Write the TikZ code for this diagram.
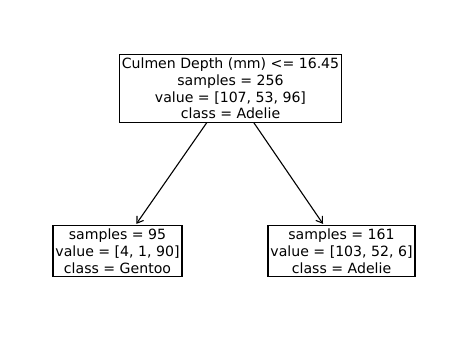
\documentclass[tikz,border=0pt]{standalone}
\usepackage{fontspec}
\setmainfont{DejaVu Sans}
\usetikzlibrary{arrows.meta}
\begin{document}
\begin{tikzpicture}[x=1pt,y=1pt,
  treenode/.style={draw=black, line width=1.2pt, fill=white, align=center,
    font=\fontsize{14.1}{16.8}\selectfont, inner xsep=2.5pt, inner ysep=3pt},
  edge/.style={line width=1.1pt, -{Straight Barb[length=6pt,width=8pt]}, shorten >=1.5pt}]
  \useasboundingbox (0,0) rectangle (460,340);
  \node[treenode] (root) at (230.5,251.5) {Culmen Depth (mm) <= 16.45\\samples = 256\\value = [107, 53, 96]\\class = Adelie};
  \node[treenode] (left) at (117.5,89) {samples = 95\\value = [4, 1, 90]\\class = Gentoo};
  \node[treenode] (right) at (341.5,89) {samples = 161\\value = [103, 52, 6]\\class = Adelie};
  \draw[edge] (root) -- (left);
  \draw[edge] (root) -- (right);
\end{tikzpicture}
\end{document}
